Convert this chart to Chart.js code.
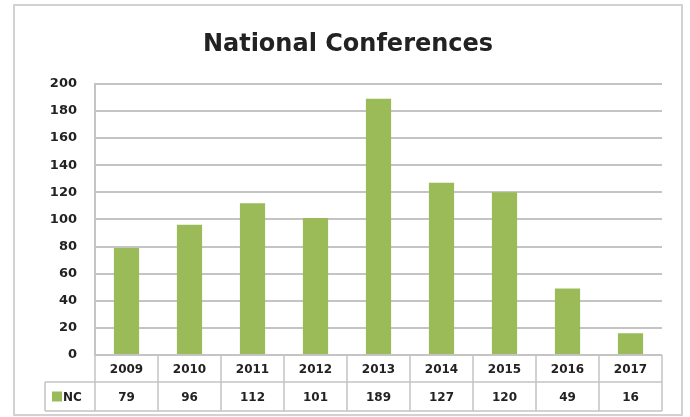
<!DOCTYPE html>
<html>
<head>
<meta charset="utf-8">
<script src="https://cdn.jsdelivr.net/npm/chart.js@4"></script>
<style>
  html, body { margin: 0; padding: 0; background: #fff; }
  #wrap { width: 690px; height: 417px; }
</style>
</head>
<body>
<div id="wrap"><canvas id="ncChart" width="690" height="417"></canvas></div>
<script>
// data
const years = ['2009', '2010', '2011', '2012', '2013', '2014', '2015', '2016', '2017'];
const ncValues = [79, 96, 112, 101, 189, 127, 120, 49, 16];
const seriesName = 'NC';
const yMax = 200;
const yStep = 20;

const barGreen = '#9bbb59';
const gridGray = '#c4c4c4';
const textColor = '#222';

// white background + outer frame
const framePlugin = {
    id: 'frame',
    beforeDraw(chart) {
        const ctx = chart.ctx;
        ctx.save();
        ctx.fillStyle = '#fff';
        ctx.fillRect(0, 0, chart.width, chart.height);
        ctx.strokeStyle = '#d2d2d2';
        ctx.lineWidth = 2;
        ctx.strokeRect(14, 5, 668, 410);
        ctx.restore();
    }
};

// data table under the plot (like Excel's "data table" option)
const tablePlugin = {
    id: 'dataTable',
    afterDraw(chart) {
        const ctx = chart.ctx;
        const area = chart.chartArea;
        const x = chart.scales.x;
        const step = (area.right - area.left) / years.length;
        const row1Top = area.bottom;
        const row1Bot = row1Top + 27;
        const row2Bot = row1Bot + 29;
        const tableLeft = 45;

        ctx.save();
        ctx.strokeStyle = gridGray;
        ctx.lineWidth = 1.5;

        // horizontal lines
        ctx.beginPath();
        ctx.moveTo(tableLeft, row1Bot);
        ctx.lineTo(area.right, row1Bot);
        ctx.moveTo(tableLeft, row2Bot);
        ctx.lineTo(area.right, row2Bot);
        // vertical lines
        ctx.moveTo(tableLeft, row1Bot);
        ctx.lineTo(tableLeft, row2Bot);
        for (let i = 0; i <= years.length; i++) {
            const px = area.left + i * step;
            ctx.moveTo(px, row1Top);
            ctx.lineTo(px, row2Bot);
        }
        ctx.stroke();

        ctx.fillStyle = textColor;
        ctx.font = 'bold 12px "DejaVu Sans"';
        ctx.textAlign = 'center';
        ctx.textBaseline = 'middle';
        years.forEach((yr, i) => {
            const cx = x.getPixelForValue(i);
            ctx.fillText(yr, cx, (row1Top + row1Bot) / 2 + 1);
            ctx.fillText(String(ncValues[i]), cx, (row1Bot + row2Bot) / 2 + 1);
        });

        // legend key + series name
        ctx.fillStyle = barGreen;
        ctx.fillRect(52, (row1Bot + row2Bot) / 2 - 5, 10, 10);
        ctx.fillStyle = textColor;
        ctx.textAlign = 'left';
        ctx.fillText(seriesName, 63, (row1Bot + row2Bot) / 2 + 1);
        ctx.restore();
    }
};

new Chart(document.getElementById('ncChart'), {
    type: 'bar',
    data: {
        labels: years,
        datasets: [{
            label: seriesName,
            data: ncValues,
            backgroundColor: barGreen,
            borderWidth: 0,
            barPercentage: 0.4,
            categoryPercentage: 1
        }]
    },
    options: {
        responsive: false,
        animation: false,
        layout: {
            padding: { left: 14, right: 8, top: 0, bottom: 62 }
        },
        plugins: {
            legend: { display: false },
            tooltip: { enabled: false },
            title: {
                display: true,
                text: 'National Conferences',
                color: textColor,
                font: { family: 'DejaVu Sans', size: 24, weight: 'bold' },
                padding: { top: 30, bottom: 25 }
            }
        },
        scales: {
            x: {
                display: false
            },
            y: {
                min: 0,
                max: yMax,
                afterFit(scale) { scale.width = 81; },
                ticks: {
                    stepSize: yStep,
                    padding: 18,
                    color: textColor,
                    font: { family: 'DejaVu Sans', size: 13, weight: 'bold' }
                },
                grid: {
                    color: gridGray,
                    lineWidth: 2,
                    drawTicks: false
                },
                border: {
                    display: true,
                    color: gridGray,
                    width: 2
                }
            },
            // empty right-hand gutter so the title centres on the frame
            yGutter: {
                position: 'right',
                display: true,
                afterFit(scale) { scale.width = 20; },
                ticks: { display: false },
                grid: { display: false, drawOnChartArea: false },
                border: { display: false }
            }
        }
    },
    plugins: [framePlugin, tablePlugin]
});
</script>
</body>
</html>
